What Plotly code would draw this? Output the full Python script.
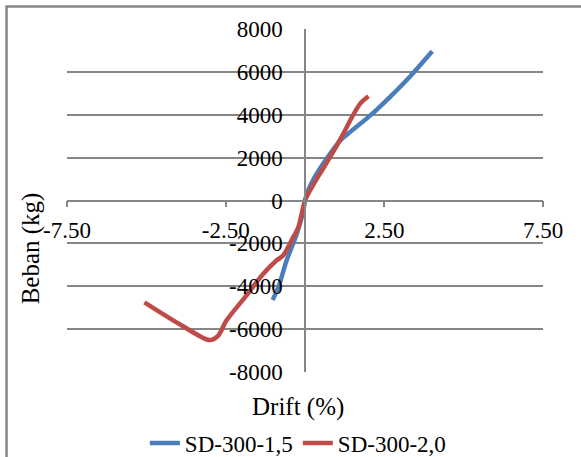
import plotly.graph_objects as go

# Load-drift curves of the two specimens
drift_sd_15 = [-1.02, -0.84, -0.58, -0.26, -0.05, 0.0, 0.10, 0.37, 0.79, 1.11, 1.42, 2.06, 2.69, 3.32, 4.01]
beban_sd_15 = [-4640, -4050, -2800, -1560, -470, 0, 470, 1250, 2180, 2800, 3190, 3970, 4850, 5800, 6960]

drift_sd_20 = [-5.06, -3.96, -3.01, -2.74, -2.48, -1.85, -1.32, -0.90, -0.69, -0.37, -0.21, 0.0,
               0.16, 0.47, 0.79, 1.21, 1.48, 1.74, 2.00]
beban_sd_20 = [-4750, -5760, -6510, -6310, -5610, -4440, -3430, -2800, -2570, -1710, -1250, 0,
               470, 1250, 2020, 3120, 3890, 4520, 4860]

series_names = ["SD-300-1,5", "SD-300-2,0"]
series_colors = ["#4A7EBB", "#BE4B48"]

x_range = [-7.5, 7.5]
y_range = [-8000, 8000]
x_ticks = [-7.5, -2.5, 2.5, 7.5]
y_ticks = [-8000, -6000, -4000, -2000, 0, 2000, 4000, 6000, 8000]

FONT = "Liberation Serif, Times New Roman, serif"
GRID = "#868686"

fig = go.Figure()
for xs, ys, name, color in [(drift_sd_15, beban_sd_15, series_names[0], series_colors[0]),
                            (drift_sd_20, beban_sd_20, series_names[1], series_colors[1])]:
    fig.add_trace(go.Scatter(
        x=xs, y=ys, name=name, mode="lines",
        line=dict(color=color, width=4.5, shape="spline", smoothing=0.8),
    ))

fig.update_layout(
    width=581, height=457,
    margin=dict(l=67, r=38, t=29, b=85, autoexpand=False),
    paper_bgcolor="white", plot_bgcolor="white",
    font=dict(family=FONT, color="black", size=23),
    showlegend=True,
    legend=dict(
        orientation="h", x=0.485, xanchor="center", y=-0.207, yanchor="middle",
        font=dict(family=FONT, size=23, color="black"),
        bgcolor="rgba(0,0,0,0)", itemwidth=30,
    ),
    xaxis=dict(
        range=x_range, tickvals=x_ticks, ticktext=[f"{v:.2f}" for v in x_ticks],
        showgrid=False, zeroline=False,
        showline=True, linecolor=GRID, linewidth=1.5,
        ticks="outside", ticklen=6, tickcolor=GRID, tickwidth=1.5,
        anchor="free", position=0.5,
        tickfont=dict(family=FONT, size=23, color="black"),
        ticklabelstandoff=3,
    ),
    yaxis=dict(
        range=y_range, tickvals=y_ticks, ticktext=[str(v) for v in y_ticks],
        showgrid=True, gridcolor=GRID, gridwidth=1.5,
        zeroline=False,
        showline=True, linecolor=GRID, linewidth=1.5,
        ticks="", anchor="free", position=0.5,
        tickfont=dict(family=FONT, size=23, color="black"),
        ticklabelstandoff=17,
    ),
    annotations=[
        dict(text="Drift (%)", xref="paper", yref="paper", x=0.485, y=-0.102,
             xanchor="center", yanchor="middle", showarrow=False,
             font=dict(family=FONT, size=25, color="black")),
        dict(text="Beban (kg)", xref="paper", yref="paper", x=-0.076, y=0.36,
             xanchor="center", yanchor="middle", showarrow=False, textangle=-90,
             font=dict(family=FONT, size=25, color="black")),
    ],
    shapes=[
        # chart-area frame (left and top edges)
        dict(type="path", xref="paper", yref="paper",
             path="M -0.127,-0.3 L -0.127,1.0656 L 1.1,1.0656",
             line=dict(color=GRID, width=2.5)),
    ],
)

fig.write_html("out.html")
